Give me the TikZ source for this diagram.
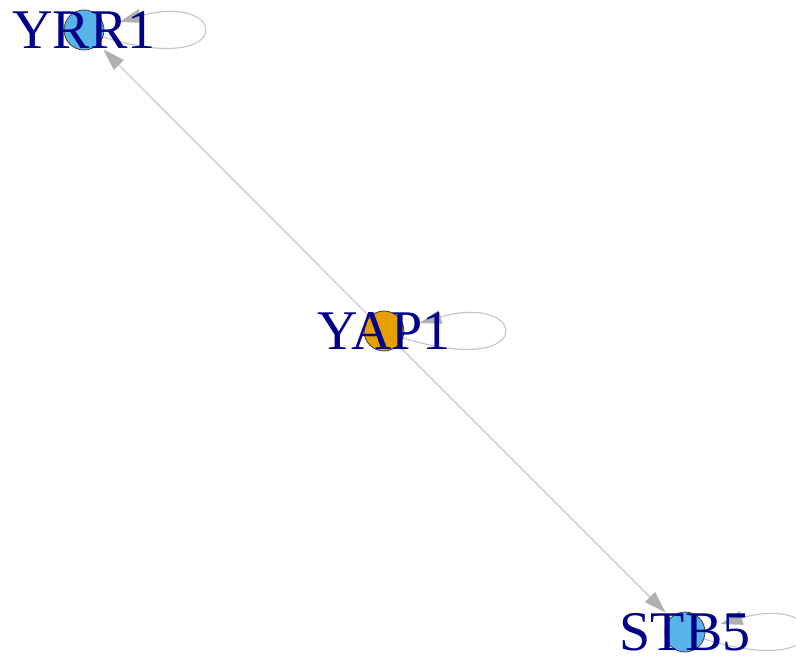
\documentclass[tikz,border=0pt]{standalone}
\usepackage{fontspec}
\setmainfont{Liberation Serif}
\usetikzlibrary{arrows.meta,backgrounds}

\definecolor{edgegray}{HTML}{C4C4C4}
\definecolor{tipgray}{HTML}{B0B0B0}
\definecolor{vblue}{HTML}{56B4E9}
\definecolor{vorange}{HTML}{E69F00}
\definecolor{labelblue}{HTML}{00008B}

\begin{document}
\begin{tikzpicture}[x=1pt,y=1pt,
    vertex/.style={circle,draw=black!75,line width=0.8pt,minimum size=40pt,inner sep=0pt},
    vlabel/.style={text=labelblue,font=\fontsize{56}{60}\selectfont},
    link/.style={draw=edgegray,line width=1.1pt,
        -{Triangle[length=22pt,width=14pt,color=tipgray]},shorten >=7pt},
    selfloop/.style={link,shorten >=16pt}]
    \useasboundingbox (0,0) rectangle (796,662);

    % Vertices
    \node[vertex,fill=vblue,label={[vlabel]center:YRR1}] (yrr1) at (84,632) {};
    \node[vertex,fill=vorange,label={[vlabel]center:YAP1}] (yap1) at (384,331) {};
    \node[vertex,fill=vblue,label={[vlabel]center:STB5}] (stb5) at (685,30) {};

    % Edges
    \begin{scope}[on background layer]
        \draw[link] (yap1) -- (yrr1);
        \draw[link] (yap1) -- (stb5);
        % Self loops
        \draw[selfloop] (yrr1.-20) .. controls +(135,-42) and +(125,36) .. (yrr1.10);
        \draw[selfloop] (yap1.-20) .. controls +(135,-42) and +(125,36) .. (yap1.10);
        \draw[selfloop] (stb5.-20) .. controls +(135,-42) and +(125,36) .. (stb5.10);
    \end{scope}
\end{tikzpicture}
\end{document}
